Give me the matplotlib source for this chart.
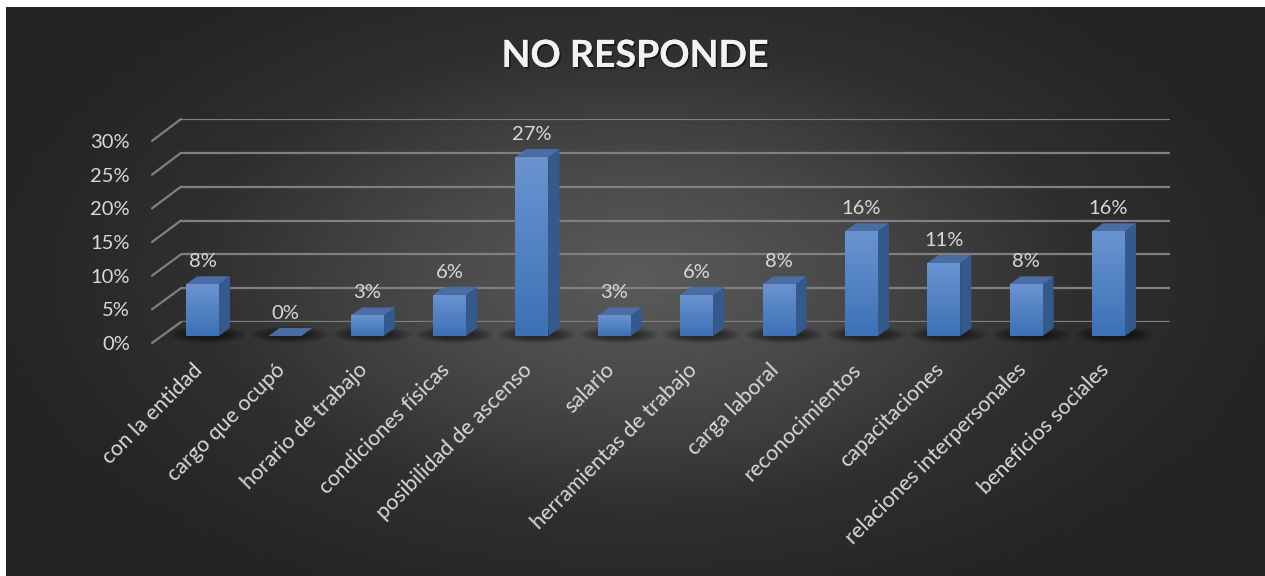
import numpy as np
import matplotlib
matplotlib.use("Agg")
import matplotlib.pyplot as plt
import matplotlib.patheffects as pe
from matplotlib.patches import Polygon, Ellipse, ConnectionPatch
from matplotlib.colors import LinearSegmentedColormap
from matplotlib.transforms import ScaledTranslation

# ---------------------------------------------------------------
# Data
# ---------------------------------------------------------------
TITLE = "NO RESPONDE"
CATEGORIES = [
    "con la entidad", "cargo que ocupó", "horario de trabajo",
    "condiciones físicas", "posibilidad de ascenso", "salario",
    "herramientas de trabajo", "carga laboral", "reconocimientos",
    "capacitaciones", "relaciones interpersonales", "beneficios sociales",
]
VALUES = [7.8, 0.0, 3.1, 6.2, 27.0, 3.1, 6.2, 7.8, 15.8, 11.0, 7.8, 15.8]
Y_TICKS = [0, 5, 10, 15, 20, 25, 30]

# ---------------------------------------------------------------
# Style
# ---------------------------------------------------------------
W, H = 1265, 576
plt.rcParams["font.family"] = ["Lato", "DejaVu Sans"]
TXT = "#d9d9d9"
GRID = "#808080"
BAR_W = 0.40
DX, DY = 0.134, 1.2          # fake depth of the 3D bars (x in categories, y in %)

fig = plt.figure(figsize=(W / 100, H / 100), dpi=100)
fig.patch.set_facecolor("white")

# radial background
bg = fig.add_axes([6 / W, 0, 1 - 6 / W, 1 - 7 / H], zorder=0)
gx, gy = np.meshgrid(np.linspace(-1, 1, 400), np.linspace(-1, 1, 200))
r = np.sqrt((gx / 1.05) ** 2 + ((gy + 0.05) / 1.25) ** 2)
bg_cmap = LinearSegmentedColormap.from_list("bg", ["#5b5b5b", "#484848", "#2f2f2f", "#242424"])
bg.imshow(np.clip(r, 0, 1), cmap=bg_cmap, aspect="auto", vmin=0, vmax=1)
bg.axis("off")

# back wall with gridlines
ax_wall = fig.add_axes([181 / W, 254 / H, 989 / W, 203 / H], zorder=1)
ax_wall.set_xlim(-0.5, 11.5)
ax_wall.set_ylim(0, 30)
ax_wall.axis("off")
for t in Y_TICKS:
    ax_wall.axhline(t, color=GRID, lw=1.6, solid_capstyle="butt")

# front plane: tick labels + perspective lines
ax_front = fig.add_axes([152 / W, 233 / H, 989 / W, 202 / H], zorder=1)
ax_front.set_xlim(-0.5, 11.5)
ax_front.set_ylim(0, 30)
ax_front.patch.set_visible(False)
for s in ax_front.spines.values():
    s.set_visible(False)
ax_front.set_xticks([])
ax_front.set_yticks(Y_TICKS, [f"{t}%" for t in Y_TICKS])
ax_front.tick_params(axis="y", length=0, pad=16, labelsize=14.5, labelcolor=TXT)
for t in Y_TICKS:
    con = ConnectionPatch(xyA=(-0.5, t), coordsA=ax_front.transData,
                          xyB=(-0.5, t), coordsB=ax_wall.transData,
                          color=GRID, lw=1.6)
    fig.add_artist(con)

# bars (front plane of the bars)
ax = fig.add_axes([161.3 / W, 240 / H, 988.4 / W, 199 / H], zorder=2)
ax.patch.set_visible(False)
for s in ax.spines.values():
    s.set_visible(False)
ax.tick_params(axis="y", left=False, labelleft=False)

x = np.arange(len(CATEGORIES))

# soft floor shadows
for xi in x:
    for k in range(8):
        ax.add_patch(Ellipse((xi + 0.06, 0.2), 0.95 - k * 0.07, 2.6 - k * 0.22,
                             color="black", alpha=0.07, lw=0, zorder=1, clip_on=False))

bars = ax.bar(x, VALUES, width=BAR_W, color="#4f81c4", zorder=3)
front_cmap = LinearSegmentedColormap.from_list("front", ["#3c71b6", "#6a94d0"])
grad = np.linspace(0, 1, 100).reshape(-1, 1)
for b in bars:
    h = b.get_height()
    if h <= 0:
        continue
    im = ax.imshow(grad, cmap=front_cmap, origin="lower", aspect="auto", zorder=4,
                   extent=[b.get_x(), b.get_x() + b.get_width(), 0, h])
    im.set_clip_path(b)

ax.set_xlim(-0.5, 11.5)
ax.set_ylim(0, 30)

for xi, v in zip(x, VALUES):
    xr = xi + BAR_W / 2
    xl = xi - BAR_W / 2
    ax.add_patch(Polygon([(xr, 0), (xr + DX, DY), (xr + DX, v + DY), (xr, v)],
                         closed=True, fc="#34598c", ec="none", zorder=3))
    ax.add_patch(Polygon([(xl, v), (xr, v), (xr + DX, v + DY), (xl + DX, v + DY)],
                         closed=True, fc="#4a6ea3", ec="none", zorder=3))
    ax.annotate(f"{round(v)}%", (xi, v), xytext=(0, 12.2), textcoords="offset points",
                ha="center", va="baseline", fontsize=14.5, color=TXT, zorder=5)

ax.set_xticks(x, CATEGORIES, rotation=45, ha="right", rotation_mode="anchor")
ax.tick_params(axis="x", length=0, pad=17, labelsize=15.5, labelcolor=TXT)
shift = ScaledTranslation(-0.10, 0, fig.dpi_scale_trans)
for lbl in ax.get_xticklabels():
    lbl.set_transform(lbl.get_transform() + shift)

fig.text(635 / W, 1 - 67 / H, TITLE, ha="center", va="baseline",
         fontsize=27, fontweight="bold", color="#f2f2f2",
         path_effects=[pe.withSimplePatchShadow(offset=(1.2, -1.2), shadow_rgbFace="black", alpha=0.5),
                       pe.Normal()])

fig.savefig("out.png", dpi=100, facecolor=fig.get_facecolor())
